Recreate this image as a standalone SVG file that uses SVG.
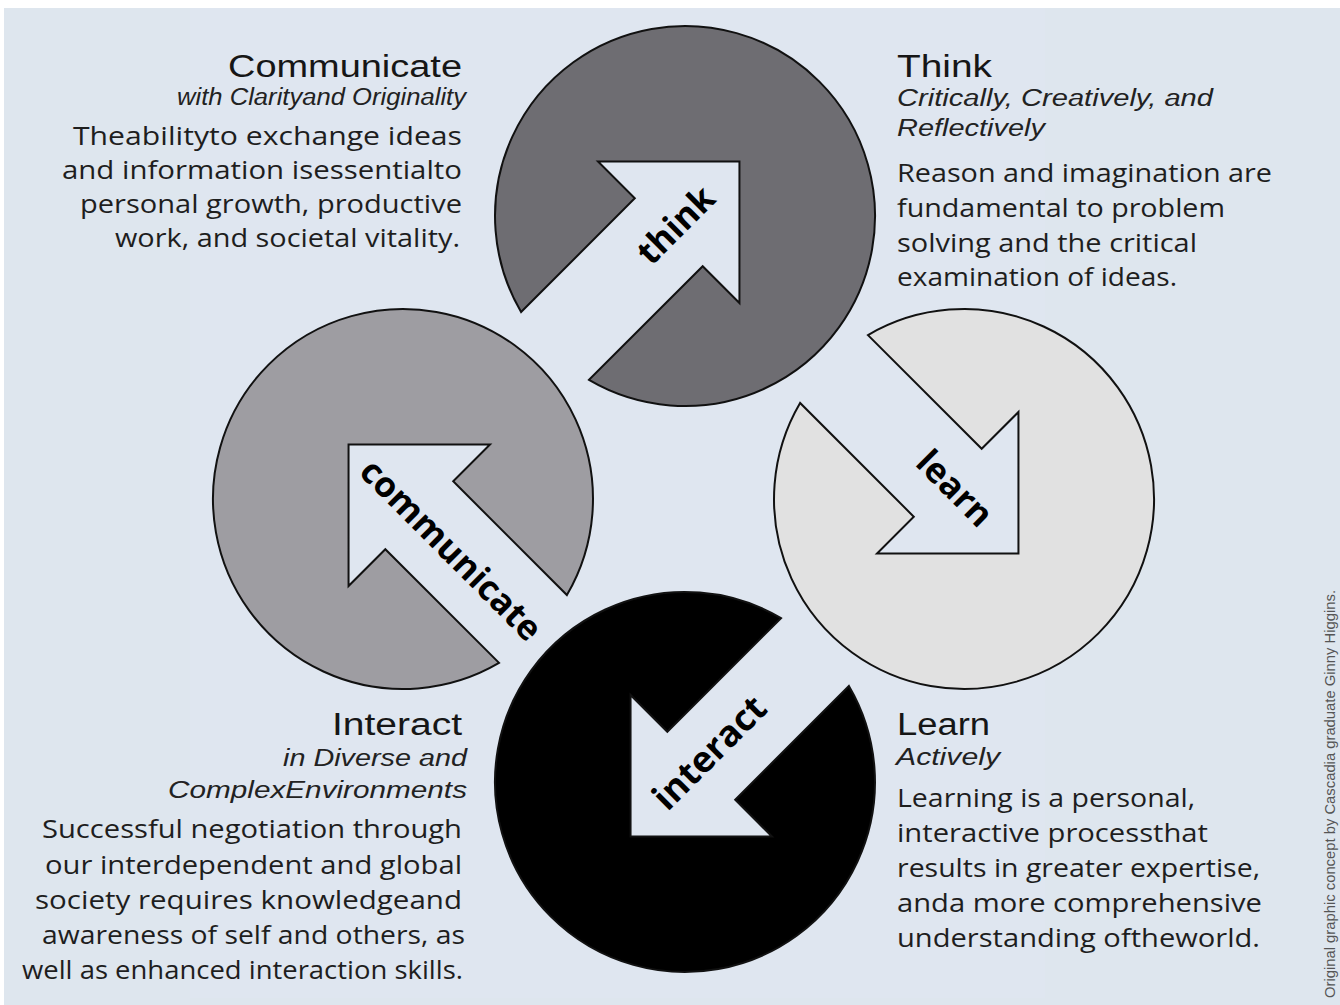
<svg xmlns="http://www.w3.org/2000/svg" width="1340" height="1005" viewBox="0 0 1340 1005">
  <defs>
    <path id="cut" d="M -183.8 -48 L -23 -48 L -23 -100 L 77 0 L -23 100 L -23 48 L -183.8 48 A 190 190 0 1 0 -183.8 -48 Z"/>
  </defs>
  <style>
    .disc { stroke: #111; stroke-width: 2; stroke-linejoin: miter; }
    .lbl { font-family: "Open Sans", "DejaVu Sans", sans-serif; font-weight: 700; font-size: 35px; fill: #000; text-anchor: middle; }
    .ttl { font-family: "Liberation Sans", Arial, sans-serif; font-size: 31px; fill: #161616; }
    .sub { font-family: "Liberation Sans", Arial, sans-serif; font-style: italic; font-size: 23px; fill: #222; }
    .body { font-family: "Open Sans", "DejaVu Sans", sans-serif; font-size: 26px; fill: #1e1e1e; }
    .end { text-anchor: end; }
    .credit { font-family: "Liberation Sans", Arial, sans-serif; font-size: 15px; fill: #555; }
  </style>

  <rect x="0" y="0" width="1340" height="1005" fill="#ffffff"/>
  <rect x="4" y="8" width="1336" height="997" fill="#dee6ee"/>
  <rect x="190" y="8" width="855" height="990" fill="#dfe6f0"/>

  <g id="connectors"/>

  <g id="node-think">
    <use href="#cut" class="disc" fill="#6e6d72" transform="translate(685 216) rotate(-45)"/>
    <text class="lbl" transform="translate(685 216) rotate(-45)" x="-13" y="12">think</text>
  </g>

  <g id="node-learn">
    <use href="#cut" class="disc" fill="#e1e1e1" transform="translate(964 499) rotate(45)"/>
    <text class="lbl" transform="translate(964 499) rotate(45)" x="-14" y="11">learn</text>
  </g>

  <g id="node-communicate">
    <use href="#cut" class="disc" fill="#9e9da2" transform="translate(403 499) rotate(225)"/>
    <text class="lbl" transform="translate(403 499) rotate(45)" x="70" y="14">communicate</text>
  </g>

  <g id="node-interact">
    <use href="#cut" class="disc" fill="#000000" transform="translate(685 782) rotate(135)"/>
    <text class="lbl" transform="translate(685 782) rotate(-45)" x="38" y="9" style="font-size:36px">interact</text>
  </g>

  <g id="text-communicate">
    <text class="ttl end" x="462" y="77" textLength="234" lengthAdjust="spacingAndGlyphs">Communicate</text>
    <text class="sub end" x="466" y="105" textLength="289" lengthAdjust="spacingAndGlyphs">with Clarityand Originality</text>
    <text class="body end" x="462" y="145" textLength="389" lengthAdjust="spacingAndGlyphs">Theabilityto exchange ideas</text>
    <text class="body end" x="462" y="179" textLength="400" lengthAdjust="spacingAndGlyphs">and information isessentialto</text>
    <text class="body end" x="462" y="213" textLength="382" lengthAdjust="spacingAndGlyphs">personal growth, productive</text>
    <text class="body end" x="460" y="247" textLength="345" lengthAdjust="spacingAndGlyphs">work, and societal vitality.</text>
  </g>

  <g id="text-think">
    <text class="ttl" x="897" y="77" textLength="95" lengthAdjust="spacingAndGlyphs">Think</text>
    <text class="sub" x="897" y="106" textLength="316" lengthAdjust="spacingAndGlyphs">Critically, Creatively, and</text>
    <text class="sub" x="897" y="136" textLength="148" lengthAdjust="spacingAndGlyphs">Reflectively</text>
    <text class="body" x="897" y="182" textLength="375" lengthAdjust="spacingAndGlyphs">Reason and imagination are</text>
    <text class="body" x="897" y="217" textLength="328" lengthAdjust="spacingAndGlyphs">fundamental to problem</text>
    <text class="body" x="897" y="252" textLength="300" lengthAdjust="spacingAndGlyphs">solving and the critical</text>
    <text class="body" x="897" y="286" textLength="280" lengthAdjust="spacingAndGlyphs">examination of ideas.</text>
  </g>

  <g id="text-interact">
    <text class="ttl end" x="462" y="735" textLength="130" lengthAdjust="spacingAndGlyphs">Interact</text>
    <text class="sub end" x="467" y="766" textLength="184" lengthAdjust="spacingAndGlyphs">in Diverse and</text>
    <text class="sub end" x="467" y="798" textLength="299" lengthAdjust="spacingAndGlyphs">ComplexEnvironments</text>
    <text class="body end" x="462" y="838" textLength="420" lengthAdjust="spacingAndGlyphs">Successful negotiation through</text>
    <text class="body end" x="462" y="874" textLength="417" lengthAdjust="spacingAndGlyphs">our interdependent and global</text>
    <text class="body end" x="462" y="909" textLength="427" lengthAdjust="spacingAndGlyphs">society requires knowledgeand</text>
    <text class="body end" x="465" y="944" textLength="423" lengthAdjust="spacingAndGlyphs">awareness of self and others, as</text>
    <text class="body end" x="463" y="979" textLength="441" lengthAdjust="spacingAndGlyphs">well as enhanced interaction skills.</text>
  </g>

  <g id="text-learn">
    <text class="ttl" x="897" y="735" textLength="93" lengthAdjust="spacingAndGlyphs">Learn</text>
    <text class="sub" x="896" y="765" textLength="104" lengthAdjust="spacingAndGlyphs">Actively</text>
    <text class="body" x="897" y="807" textLength="298" lengthAdjust="spacingAndGlyphs">Learning is a personal,</text>
    <text class="body" x="897" y="842" textLength="311" lengthAdjust="spacingAndGlyphs">interactive processthat</text>
    <text class="body" x="897" y="877" textLength="363" lengthAdjust="spacingAndGlyphs">results in greater expertise,</text>
    <text class="body" x="897" y="912" textLength="365" lengthAdjust="spacingAndGlyphs">anda more comprehensive</text>
    <text class="body" x="897" y="947" textLength="363" lengthAdjust="spacingAndGlyphs">understanding oftheworld.</text>
  </g>

  <g id="credit">
    <text class="credit" transform="translate(1335 998) rotate(-90)" x="0" y="0" textLength="408" lengthAdjust="spacingAndGlyphs">Original graphic concept by Cascadia graduate Ginny Higgins.</text>
  </g>
</svg>
